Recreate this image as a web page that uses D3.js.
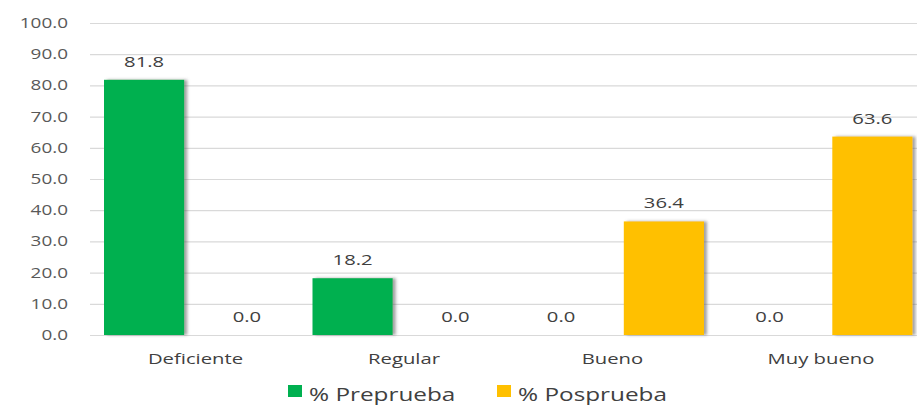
<!DOCTYPE html>
<html><head><meta charset="utf-8">
<script src="https://cdn.jsdelivr.net/npm/d3@7"></script>
<style>html,body{margin:0;padding:0;background:#fff;}svg{display:block;}</style>
</head><body>
<svg id="c" width="917" height="409"></svg>
<script>
const categories = ["Deficiente", "Regular", "Bueno", "Muy bueno"];
const seriesNames = ["% Preprueba", "% Posprueba"];
const preprueba = [81.8, 18.2, 0.0, 0.0];
const posprueba = [0.0, 0.0, 36.4, 63.6];
const yTicks = [0, 10, 20, 30, 40, 50, 60, 70, 80, 90, 100];
const colors = ["#00b050", "#ffc000"];

const W = 917, H = 409;
const STRETCH = 1.35;
const FONT = "'Open Sans', sans-serif";
const svg = d3.select("#c");

const defs = svg.append("defs");
const f = defs.append("filter").attr("id","sh").attr("x","-10%").attr("y","-10%").attr("width","130%").attr("height","120%");
f.append("feDropShadow").attr("dx",3).attr("dy",0).attr("stdDeviation",1.8).attr("flood-color","#555").attr("flood-opacity",0.55);

const y = d3.scaleLinear().domain([0, 100]).range([335, 23]);
const x0 = d3.scaleBand().domain(categories).range([91, 925]);
const x1 = d3.scaleBand().domain(seriesNames).range([13, 196]).paddingInner(0.22);

function stretch(sel, k){
  const s = k || STRETCH;
  sel.each(function(){
    const w = this.getComputedTextLength();
    d3.select(this).attr("textLength", w*s).attr("lengthAdjust","spacingAndGlyphs");
  });
}

// gridlines
const yAxis = d3.axisLeft(y).tickValues(yTicks).tickSize(-(917-90)).tickFormat(d3.format(".1f")).tickPadding(22);
const ga = svg.append("g").attr("transform","translate(90,0)").call(yAxis);
ga.select(".domain").remove();
ga.selectAll(".tick line").attr("stroke","#d9d9d9").attr("stroke-width",1.2);
ga.selectAll(".tick text").attr("font-family",FONT).attr("font-size",14).attr("fill","#595959").call(stretch);

const data = categories.map((c,i)=>({cat:c, vals:[preprueba[i], posprueba[i]]}));

const groups = svg.append("g").selectAll("g").data(data).join("g")
  .attr("transform", d=>`translate(${x0(d.cat)},0)`);

groups.selectAll("rect").data(d=>d.vals.map((v,j)=>({v, s:seriesNames[j], j})))
  .join("rect")
  .filter(d=>d.v>0)
  .attr("x", d=>x1(d.s)).attr("width", x1.bandwidth())
  .attr("y", d=>y(d.v)).attr("height", d=>y(0)-y(d.v))
  .attr("fill", d=>colors[d.j]).attr("filter","url(#sh)");

groups.selectAll("text.v").data(d=>d.vals.map((v,j)=>({v, s:seriesNames[j], j})))
  .join("text").attr("class","v")
  .attr("x", d=>x1(d.s)+x1.bandwidth()/2)
  .attr("y", d=>y(d.v)-13)
  .attr("text-anchor","middle")
  .attr("font-family",FONT).attr("font-size",15).attr("fill","#404040")
  .text(d=>d3.format(".1f")(d.v)).call(stretch);

// category labels
svg.append("g").selectAll("text").data(categories).join("text")
  .attr("x", d=>x0(d)+13+183/2).attr("y", 364)
  .attr("text-anchor","middle")
  .attr("font-family",FONT).attr("font-size",15).attr("fill","#404040")
  .text(d=>d).call(stretch);

// legend
const legX = [288, 497];
const lg = svg.append("g").selectAll("g").data(seriesNames).join("g")
  .attr("transform",(d,i)=>`translate(${legX[i]},0)`);
lg.append("rect").attr("x",0).attr("y",385).attr("width",14).attr("height",12).attr("fill",(d,i)=>colors[i]);
lg.append("text").attr("x",21).attr("y",401)
  .attr("font-family",FONT).attr("font-size",18).attr("fill","#404040")
  .text(d=>d).call(stretch);
</script>
</body></html>
